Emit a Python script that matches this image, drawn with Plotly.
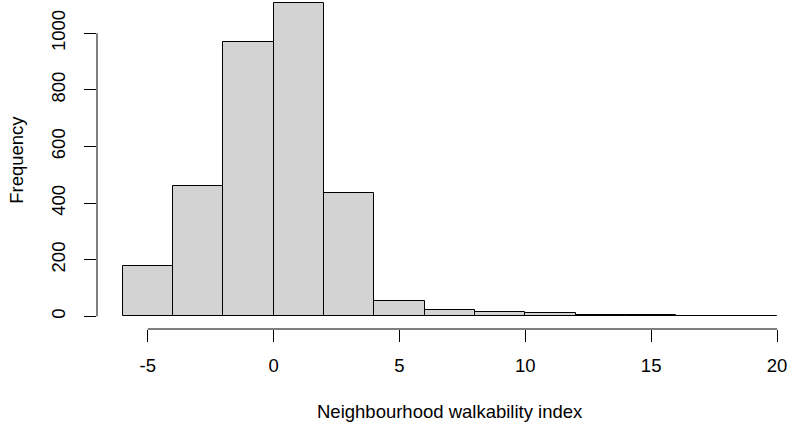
import plotly.graph_objects as go

# Histogram data (bin edges and counts)
bin_edges = [-6, -4, -2, 0, 2, 4, 6, 8, 10, 12, 14, 16, 18, 20]
counts = [179, 460, 970, 1106, 437, 55, 24, 14, 11, 5, 4, 0, 3]

x_ticks = [-5, 0, 5, 10, 15, 20]
y_ticks = [0, 200, 400, 600, 800, 1000]

x_title = "Neighbourhood walkability index"
y_title = "Frequency"

centers = [(a + b) / 2 for a, b in zip(bin_edges[:-1], bin_edges[1:])]
widths = [b - a for a, b in zip(bin_edges[:-1], bin_edges[1:])]

FONT = "Liberation Sans, Arial, sans-serif"
FS = 18.5

fig = go.Figure(
    go.Bar(
        x=centers,
        y=counts,
        width=widths,
        marker=dict(color="#D3D3D3", line=dict(color="#000000", width=1)),
        hoverinfo="skip",
    )
)

fig.update_layout(
    width=791,
    height=426,
    margin=dict(l=97, r=0, t=0, b=97),
    plot_bgcolor="white",
    paper_bgcolor="white",
    showlegend=False,
    font=dict(family=FONT, size=FS, color="#000000"),
    bargap=0,
    xaxis=dict(
        range=[-7.015, 20.556],
        tickvals=x_ticks,
        ticktext=[str(v) for v in x_ticks],
        ticks="outside",
        ticklen=12,
        tickwidth=1,
        tickcolor="#000000",
        showline=False,
        showgrid=False,
        zeroline=False,
        ticklabelstandoff=8,
    ),
    yaxis=dict(
        range=[-44.5, 1117.5],
        tickvals=y_ticks,
        ticktext=[str(v) for v in y_ticks],
        tickangle=-90,
        ticks="outside",
        ticklen=12,
        tickwidth=1,
        tickcolor="#000000",
        showline=False,
        showgrid=False,
        zeroline=False,
        ticklabelstandoff=12,
    ),
    shapes=[
        dict(type="line", xref="x", yref="paper", x0=x_ticks[0], x1=x_ticks[-1], y0=0, y1=0,
             line=dict(color="#000000", width=1), layer="above"),
        dict(type="line", xref="paper", yref="y", x0=0, x1=0, y0=y_ticks[0], y1=y_ticks[-1],
             line=dict(color="#000000", width=1), layer="above"),
    ],
    annotations=[
        dict(text=x_title, xref="x", yref="paper", x=7, y=0, yshift=-82,
             showarrow=False, xanchor="center", yanchor="middle",
             font=dict(family=FONT, size=FS, color="#000000")),
        dict(text=y_title, xref="paper", yref="y", x=0, y=553, xshift=-80,
             textangle=-90, showarrow=False, xanchor="center", yanchor="middle",
             font=dict(family=FONT, size=FS, color="#000000")),
    ],
)

fig.write_html(
    "out.html",
    config={"displayModeBar": False},
    post_script="document.body.style.margin='0';document.body.style.overflow='hidden';",
)
